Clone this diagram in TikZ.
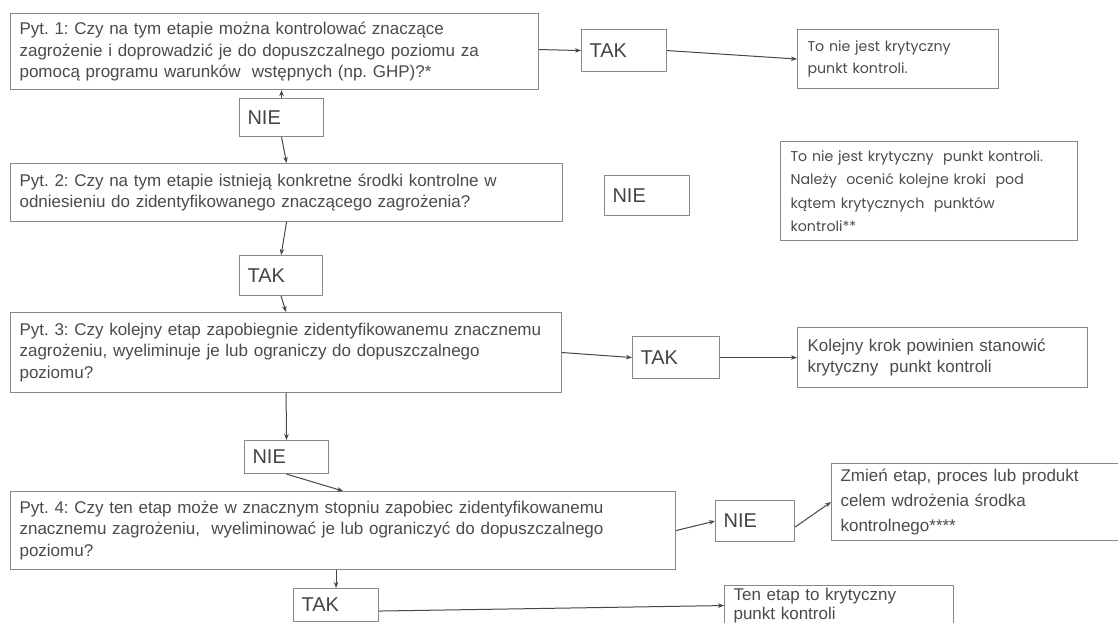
\documentclass[tikz,border=0pt]{standalone}
\usepackage{fontspec}
\setmainfont{Liberation Sans}
\newfontfamily\geofont{Poppins}
\usetikzlibrary{arrows.meta}
\frenchspacing
\definecolor{boxgray}{RGB}{135,135,135}
\definecolor{txtgray}{RGB}{75,75,75}
\definecolor{arrgray}{RGB}{70,70,70}
\newcommand\myline[1]{\mbox{#1}}
\tikzset{
  box/.style={draw=boxgray, line width=1.1pt, anchor=north west, inner xsep=9pt, inner ysep=0pt,
    align=left, text=txtgray, font=\fontsize{17}{21.5}\selectfont},
  ansbox/.style={draw=boxgray, line width=1.1pt, anchor=north west, inner xsep=8pt, inner ysep=0pt,
    align=left, text=txtgray!90!black, font=\fontsize{20}{24}\selectfont},
  geobox/.style={box, font=\geofont\fontsize{14.2}{22}\selectfont, inner xsep=10pt},
  arr/.style={draw=arrgray, line width=1pt, -{Stealth[length=6pt,width=4.5pt]}}
}
\begin{document}
\begin{tikzpicture}[x=1pt,y=-1pt]
\useasboundingbox[fill=white] (0,0) rectangle (1118,623);
\clip (0,0) rectangle (1118,623);
% questions
\node[box, minimum width=528, minimum height=76, text width=510] (q1) at (10,13)
  {\myline{Pyt. 1: Czy na tym etapie można kontrolować znaczące}\\
   \myline{zagrożenie i doprowadzić je do dopuszczalnego poziomu za}\\
   \myline{pomocą programu warunków\ \ wstępnych (np. GHP)?*}};
\node[box, minimum width=552, minimum height=58, text width=534] (q2) at (10,163)
  {\myline{Pyt. 2: Czy na tym etapie istnieją konkretne środki kontrolne w}\\
   \myline{odniesieniu do zidentyfikowanego znaczącego zagrożenia?}};
\node[box, minimum width=551, minimum height=80, text width=533] (q3) at (10,312)
  {\myline{Pyt. 3: Czy kolejny etap zapobiegnie zidentyfikowanemu znacznemu}\\
   \myline{zagrożeniu, wyeliminuje je lub ograniczy do dopuszczalnego}\\
   \myline{poziomu?}};
\node[box, minimum width=665, minimum height=78, text width=647] (q4) at (10,491)
  {\myline{Pyt. 4: Czy ten etap może w znacznym stopniu zapobiec zidentyfikowanemu}\\
   \myline{znacznemu zagrożeniu,\ \ wyeliminować je lub ograniczyć do dopuszczalnego}\\
   \myline{poziomu?}};
% answers
\node[ansbox, minimum width=85, minimum height=42, text width=69] (tak1) at (581,29) {TAK};
\node[ansbox, minimum width=84, minimum height=38, text width=68] (nie1) at (239,98) {NIE};
\node[ansbox, minimum width=85, minimum height=40, text width=69] (nie2) at (604,175) {NIE};
\node[ansbox, minimum width=83, minimum height=40, text width=67] (tak2) at (239,255) {TAK};
\node[ansbox, minimum width=87, minimum height=42, text width=71] (tak3) at (632,336) {TAK};
\node[ansbox, minimum width=84, minimum height=33, text width=68] (nie3) at (244,440) {NIE};
\node[ansbox, minimum width=79, minimum height=41, text width=63] (nie4) at (715,500) {NIE};
\node[ansbox, minimum width=85, minimum height=33, text width=69] (tak4) at (293,588) {TAK};
% results
\node[geobox, minimum width=201, minimum height=59, text width=181] (r1) at (797,29)
  {\myline{To nie jest krytyczny}\\ \myline{punkt kontroli.}};
\node[geobox, minimum width=297, minimum height=99, text width=277, font=\geofont\fontsize{14.2}{23.5}\selectfont] (r2) at (780,141)
  {\myline{To nie jest krytyczny\ \ punkt kontroli.}\\
   \myline{Należy\ \ ocenić kolejne kroki\ \ pod}\\
   \myline{kątem krytycznych\ \ punktów}\\
   \myline{kontroli**}};
\node[box, minimum width=290, minimum height=60, text width=270, inner xsep=10pt] (r3) at (797,327)
  {\myline{Kolejny krok powinien stanowić}\\ \myline{krytyczny\ \ punkt kontroli}};
\node[box, minimum width=300, minimum height=77, text width=282, font=\fontsize{17}{25}\selectfont] (r4) at (831,463)
  {\myline{Zmień etap, proces lub produkt}\\ \myline{celem wdrożenia środka}\\ \myline{kontrolnego****}};
\node[box, minimum width=229, minimum height=40, text width=211, font=\fontsize{17}{19}\selectfont] (r5) at (724,585)
  {\myline{Ten etap to krytyczny}\\ \myline{punkt kontroli}};
\draw[boxgray, line width=1.1pt] (r5.south west) -- ++(0,10) (r5.south east) -- ++(0,10);
% connectors
\draw[arr] ([yshift=2pt]q1.east) -- (tak1.west);
\draw[arr] (tak1.east) -- (r1.west);
\draw[arr] (nie1.north) -- (nie1.north |- q1.south);
\draw[arr] (nie1.south) -- (q2.north);
\draw[arr] (q2.south) -- (tak2.north);
\draw[arr] (tak2.south) -- (q3.north);
\draw[arr] (q3.east) -- (tak3.west);
\draw[arr] (tak3.east) -- (r3.west);
\draw[arr] (q3.south) -- (nie3.north);
\draw[arr] (nie3.south) -- (q4.north);
\draw[arr] (q4.east) -- (nie4.west);
\draw[arr] ([yshift=-6pt]nie4.east) -- (r4.west);
\draw[arr] (tak4.north |- q4.south) -- (tak4.north);
\draw[arr] ([yshift=-6pt]tak4.east) -- (r5.west);
\end{tikzpicture}
\end{document}
